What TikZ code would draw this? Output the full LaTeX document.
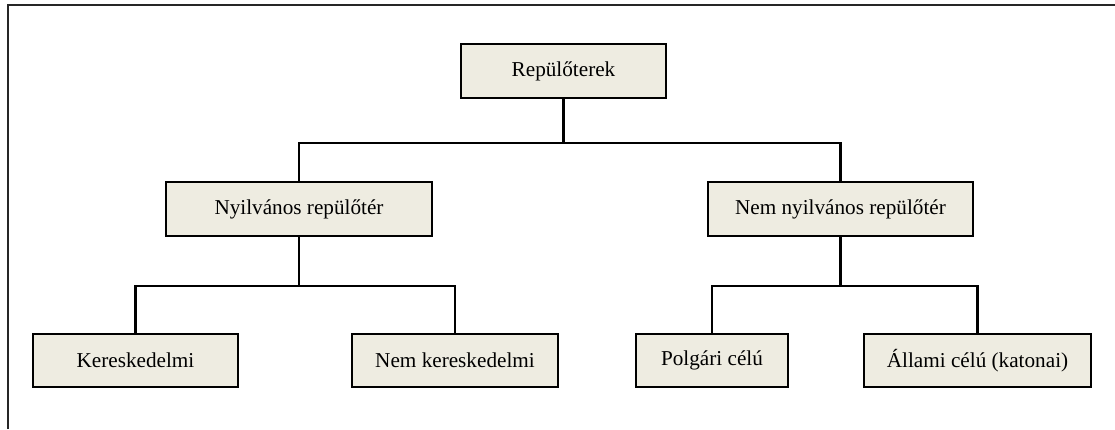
\documentclass[tikz,border=0pt]{standalone}
\usepackage{fontspec}
\setmainfont{Liberation Serif}
\definecolor{boxfill}{RGB}{238,236,225}
\begin{document}
\begin{tikzpicture}[x=1pt,y=-1pt,
  cat/.style={draw=black, line width=2.2pt, fill=boxfill, inner sep=0pt,
    font=\fontsize{21.2}{25}\selectfont, text=black},
  link/.style={draw=black, line width=2.2pt}]
\useasboundingbox (0,0) rectangle (1115,429);
% frame (only top and left edges are visible)
\draw[line width=2.2pt, draw=black!85] (8,429) -- (8,5) -- (1115,5);
% boxes
\node[cat, minimum width=205pt, minimum height=54pt] (R) at (563.5,71) {Repülőterek};
\node[cat, minimum width=266pt, minimum height=54pt] (N1) at (299,209) {Nyilvános repülőtér};
\node[cat, minimum width=265pt, minimum height=54pt] (N2) at (840.5,209) {Nem nyilvános repülőtér};
\node[cat, minimum width=205pt, minimum height=53pt] (K) at (135.5,360.5) {Kereskedelmi};
\node[cat, minimum width=206pt, minimum height=53pt] (NK) at (455,360.5) {Nem kereskedelmi};
\node[cat, minimum width=152pt, minimum height=53pt] (P) at (712,360.5) {Polgári célú};
\node[cat, minimum width=227pt, minimum height=53pt] (A) at (977.5,360.5) {Állami célú (katonai)};
% junctions
\coordinate (j1) at (563.5,143);
\coordinate (j2) at (299,286);
\coordinate (j3) at (840.5,286);
% connectors
\draw[link] (R.south) -- (j1);
\draw[link] (N1.north) |- (j1) -| (N2.north);
\draw[link] (N1.south) -- (j2);
\draw[link] (K.north) |- (j2) -| (NK.north);
\draw[link] (N2.south) -- (j3);
\draw[link] (P.north) |- (j3) -| (A.north);
\end{tikzpicture}
\end{document}
